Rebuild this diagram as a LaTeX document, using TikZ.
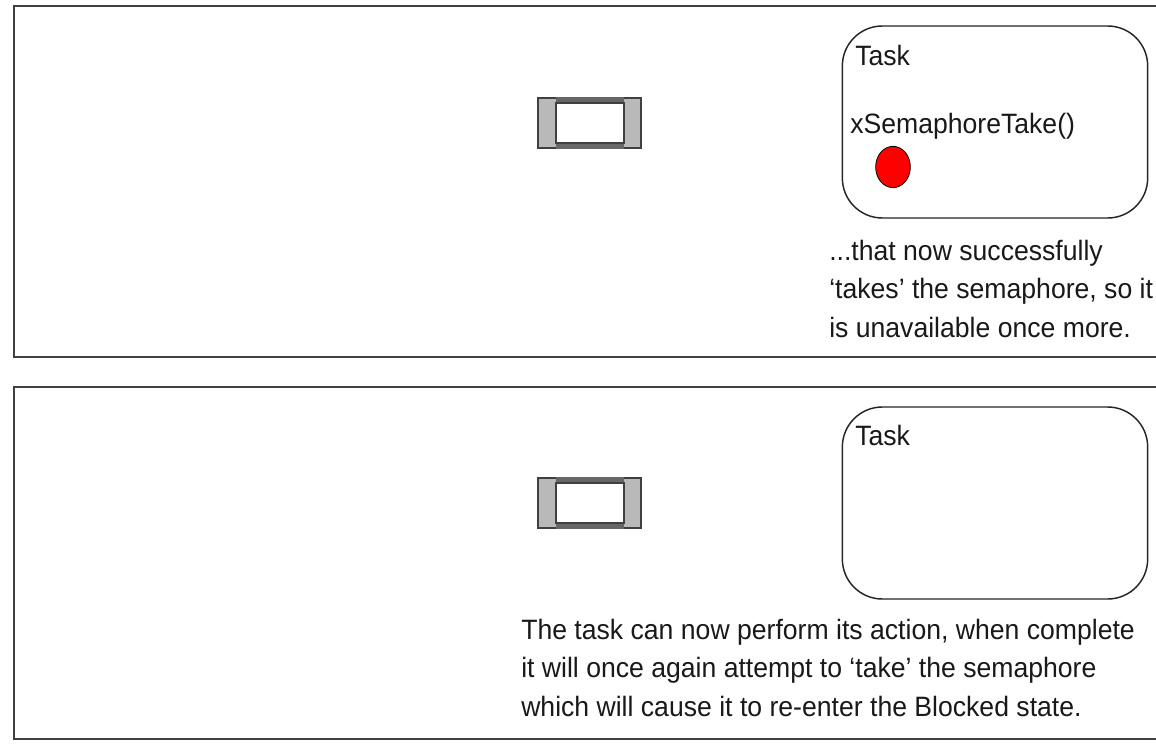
\documentclass[tikz,border=0pt]{standalone}
\usepackage{fontspec}
\setmainfont[FakeStretch=0.95]{Liberation Sans}
\usepackage{tikz}
\usetikzlibrary{shapes.geometric}

\tikzset{
    panelbox/.style={draw=black!75, line width=1.5pt},
    semouter/.style={draw=black!75, fill=gray!55, line width=1.5pt, minimum width=77pt, minimum height=38pt, inner sep=0pt},
    seminner/.style={draw=black!75, fill=white, line width=1.5pt, minimum width=51pt, minimum height=30pt, inner sep=0pt},
    semstrip/.style={fill=black!60},
    taskbox/.style={draw=black!85, fill=white, line width=1.1pt, rounded corners=30pt, minimum width=229pt, minimum height=144pt, inner sep=0pt},
    tokendot/.style={draw=black, fill=red, line width=0.6pt, ellipse, minimum width=26pt, minimum height=31pt, inner sep=0pt},
    label/.style={inner sep=0pt, anchor=base west, text=black!90, font=\fontsize{21}{28.8}\selectfont, align=left},
}

\begin{document}
\begin{tikzpicture}[x=0.75pt, y=-0.75pt]

        % Fix page size
        \useasboundingbox[clip] (0,0) rectangle (1156,749);
        \fill[white] (0,0) rectangle (1156,749);

        % Draw panels
        \draw[panelbox] (14,6) rectangle (1180,357);
        \draw[panelbox] (14,387) rectangle (1180,739);

        % Semaphores
        \foreach \name/\y in {semaUp/123, semaDown/503} {
            \node[semouter] (\name) at (589.5,\y) {};
            \fill[semstrip] (\name.north) ++(-34,0) rectangle ++(68,8);
            \fill[semstrip] (\name.south) ++(-34,0) rectangle ++(68,-6);
            \node[seminner] (\name In) at (589.5,\y) {};
        }

        % Upper panel
        \node[taskbox] (taskUp) at (995,122) {};
        \node[label] (taskUpName) at (855,65) {Task};
        \node[label] (takeCall) at (850,133) {xSemaphoreTake()};
        \node[tokendot] (token) at (893,167) {};
        \node[label] (noteUp) at (829,337) {...that now successfully\\`takes' the semaphore, so it\\is unavailable once more.};

        % Lower panel
        \node[taskbox] (taskDown) at (995,503) {};
        \node[label] (taskDownName) at (855,445) {Task};
        \node[label] (noteDown) at (521,716) {The task can now perform its action, when complete\\it will once again attempt to `take' the semaphore\\which will cause it to re-enter the Blocked state.};

\end{tikzpicture}
\end{document}
